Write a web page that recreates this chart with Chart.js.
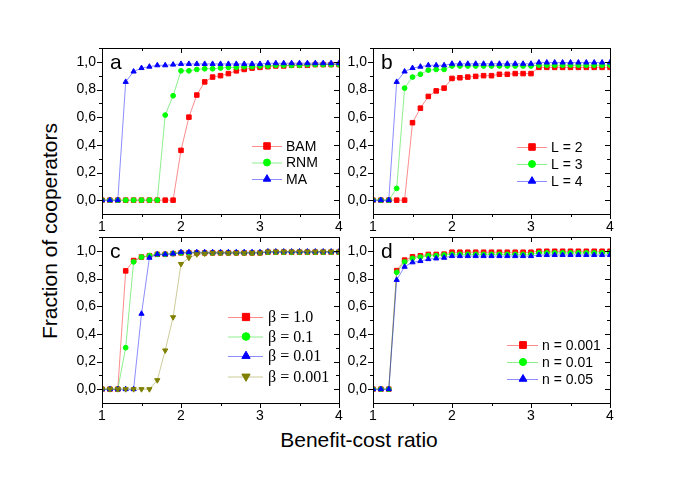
<!DOCTYPE html>
<html>
<head>
<meta charset="utf-8">
<script src="https://cdn.jsdelivr.net/npm/chart.js@4"></script>
<style>
  body { margin: 0; background: #fff; }
  #wrap { position: relative; width: 679px; height: 477px; overflow: hidden; }
  #wrap canvas { position: absolute; left: 0; top: 0; }
  .title { position: absolute; font-family: "Liberation Sans", Arial, sans-serif; font-size: 21px; color: #000; white-space: nowrap; }
</style>
</head>
<body>
<div id="wrap">
  <div class="title" style="left:359px; top:440px; transform: translate(-50%, -50%);">Benefit-cost ratio</div>
  <div class="title" style="left:50px; top:231px; transform: translate(-50%, -50%) rotate(-90deg);">Fraction of cooperators</div>
</div>
<script>
// x values shared by all panels
const ratios = [1.0, 1.1, 1.2, 1.3, 1.4, 1.5, 1.6, 1.7, 1.8, 1.9,
                2.0, 2.1, 2.2, 2.3, 2.4, 2.5, 2.6, 2.7, 2.8, 2.9,
                3.0, 3.1, 3.2, 3.3, 3.4, 3.5, 3.6, 3.7, 3.8, 3.9, 4.0];
const xTicks = [1, 2, 3, 4];
const yTicks = [0, 0.2, 0.4, 0.6, 0.8, 1.0];

// panel a
const namesA = ['BAM', 'RNM', 'MA'];
const bam = [0, 0, 0, 0, 0, 0, 0, 0, 0, 0,
             0.36, 0.60, 0.76, 0.855, 0.89, 0.90, 0.915, 0.935, 0.945, 0.955,
             0.96, 0.965, 0.97, 0.97, 0.975, 0.975, 0.975, 0.98, 0.98, 0.98, 0.98];
const rnm = [0, 0, 0, 0, 0, 0, 0, 0, 0.615, 0.755,
             0.935, 0.935, 0.945, 0.95, 0.95, 0.955, 0.96, 0.96, 0.965, 0.965,
             0.97, 0.97, 0.975, 0.975, 0.975, 0.975, 0.98, 0.98, 0.98, 0.98, 0.98];
const ma  = [0, 0, 0, 0.855, 0.93, 0.955, 0.965, 0.975, 0.975, 0.98,
             0.985, 0.985, 0.985, 0.985, 0.985, 0.985, 0.985, 0.985, 0.985, 0.985,
             0.985, 0.99, 0.99, 0.99, 0.99, 0.99, 0.99, 0.99, 0.99, 0.99, 0.99];

// panel b
const namesB = ['L = 2', 'L = 3', 'L = 4'];
const l2 = [0, 0, 0, 0, 0, 0.56, 0.665, 0.75, 0.79, 0.81,
            0.88, 0.885, 0.89, 0.895, 0.90, 0.90, 0.91, 0.91, 0.915, 0.915,
            0.915, 0.96, 0.96, 0.96, 0.96, 0.96, 0.96, 0.96, 0.96, 0.96, 0.96];
const l3 = [0, 0, 0, 0.085, 0.81, 0.89, 0.91, 0.94, 0.945, 0.945,
            0.97, 0.97, 0.97, 0.97, 0.97, 0.97, 0.97, 0.97, 0.97, 0.97,
            0.97, 0.976, 0.976, 0.976, 0.976, 0.976, 0.976, 0.976, 0.976, 0.976, 0.976];
const l4 = [0, 0, 0, 0.855, 0.93, 0.955, 0.965, 0.975, 0.975, 0.975,
            0.986, 0.986, 0.986, 0.986, 0.986, 0.986, 0.986, 0.986, 0.986, 0.986,
            0.986, 0.995, 0.995, 0.995, 0.995, 0.995, 0.995, 0.995, 0.995, 0.995, 0.995];

// panel c
const namesC = ['β = 1.0', 'β = 0.1', 'β = 0.01', 'β = 0.001'];
const b1    = [0, 0, 0, 0.855, 0.93, 0.955, 0.965, 0.975, 0.975, 0.98,
               0.985, 0.985, 0.985, 0.985, 0.985, 0.985, 0.985, 0.985, 0.985, 0.985,
               0.985, 0.99, 0.99, 0.99, 0.99, 0.99, 0.99, 0.99, 0.99, 0.99, 0.99];
const b01   = [0, 0, 0, 0.30, 0.92, 0.955, 0.965, 0.975, 0.975, 0.98,
               0.985, 0.985, 0.985, 0.985, 0.985, 0.985, 0.985, 0.985, 0.985, 0.985,
               0.985, 0.99, 0.99, 0.99, 0.99, 0.99, 0.99, 0.99, 0.99, 0.99, 0.99];
const b001  = [0, 0, 0, 0, 0, 0.545, 0.95, 0.975, 0.975, 0.98,
               0.99, 0.99, 0.99, 0.99, 0.99, 0.99, 0.99, 0.99, 0.99, 0.99,
               0.99, 0.995, 0.995, 0.995, 0.995, 0.995, 0.995, 0.995, 0.995, 0.995, 0.995];
const b0001 = [0, 0, 0, 0, 0, 0, 0, 0.065, 0.28, 0.52,
               0.905, 0.95, 0.975, 0.98, 0.985, 0.985, 0.985, 0.985, 0.985, 0.985,
               0.985, 0.995, 0.995, 0.995, 0.995, 0.995, 0.995, 0.995, 0.995, 0.995, 0.995];

// panel d
const namesD = ['n = 0.001', 'n = 0.01', 'n = 0.05'];
const n0001 = [0, 0, 0, 0.857, 0.933, 0.957, 0.964, 0.974, 0.974, 0.976,
               0.99, 0.99, 0.99, 0.99, 0.99, 0.99, 0.99, 0.99, 0.99, 0.99,
               0.99, 0.997, 0.997, 0.997, 0.997, 0.997, 0.997, 0.997, 0.997, 0.997, 0.997];
const n001  = [0, 0, 0, 0.845, 0.92, 0.945, 0.955, 0.965, 0.965, 0.97,
               0.975, 0.975, 0.975, 0.975, 0.975, 0.975, 0.975, 0.975, 0.975, 0.975,
               0.975, 0.985, 0.985, 0.985, 0.985, 0.985, 0.985, 0.985, 0.985, 0.985, 0.985];
const n005  = [0, 0, 0, 0.79, 0.885, 0.917, 0.926, 0.94, 0.945, 0.95,
               0.962, 0.962, 0.962, 0.962, 0.962, 0.962, 0.962, 0.962, 0.962, 0.962,
               0.962, 0.97, 0.97, 0.97, 0.97, 0.97, 0.97, 0.97, 0.97, 0.97, 0.97];

// styles
const styles = [
  { color: '#ff0000', line: 'rgba(255,0,0,0.45)', shape: 'rect', rot: 0, r: 3.2 },
  { color: '#00ff00', line: 'rgba(0,220,0,0.45)', shape: 'circle', rot: 0, r: 2.4 },
  { color: '#0000ff', line: 'rgba(0,0,255,0.45)', shape: 'triangle', rot: 0, r: 3 },
  { color: '#808000', line: 'rgba(128,128,0,0.4)', shape: 'triangle', rot: 180, r: 3 }
];

const SANS = '"Liberation Sans", Arial, sans-serif';
const SERIF = '"Liberation Serif", "Times New Roman", serif';

const panels = [
  { letter: 'a', names: namesA, series: [bam, rnm, ma],
    area: { left: 102, top: 48, right: 339, bottom: 214 },
    legend: { x0: 252, x1: 282, mx: 267, tx: 286, ys: [146, 162.5, 179], font: '14px ' + SANS, scale: 1.45 } },
  { letter: 'b', names: namesB, series: [l2, l3, l4],
    area: { left: 373, top: 48, right: 610, bottom: 214 },
    legend: { x0: 517, x1: 547, mx: 532, tx: 551, ys: [147, 164, 181], font: '14px ' + SANS, scale: 1.45 } },
  { letter: 'c', names: namesC, series: [b1, b01, b001, b0001],
    area: { left: 102, top: 237, right: 339, bottom: 403 },
    legend: { x0: 228, x1: 263, mx: 246, tx: 268, ys: [317, 336.5, 356, 376.5], font: '16px ' + SERIF, scale: 1.6 } },
  { letter: 'd', names: namesD, series: [n0001, n001, n005],
    area: { left: 373, top: 237, right: 610, bottom: 403 },
    legend: { x0: 507, x1: 538, mx: 523, tx: 542, ys: [345, 362, 379], font: '14px ' + SANS, scale: 1.5 } }
];

// frame, mirrored ticks, panel letter and legend
function decorPlugin(p) {
  return {
    id: 'decor' + p.letter,
    afterDraw(chart) {
      const ctx = chart.ctx;
      const a = chart.chartArea;
      const xs = chart.scales.x, ys = chart.scales.y;
      ctx.save();
      ctx.strokeStyle = '#000';
      ctx.lineWidth = 1;
      ctx.strokeRect(Math.round(a.left) + 0.5, Math.round(a.top) + 0.5,
                     Math.round(a.right - a.left), Math.round(a.bottom - a.top));
      ctx.beginPath();
      [1, 1.5, 2, 2.5, 3, 3.5, 4].forEach(v => {
        const len = Number.isInteger(v) ? 5 : 3;
        const x = Math.round(xs.getPixelForValue(v)) + 0.5;
        ctx.moveTo(x, a.bottom); ctx.lineTo(x, a.bottom + len);
        ctx.moveTo(x, a.top); ctx.lineTo(x, a.top + len);
      });
      [0, 0.1, 0.2, 0.3, 0.4, 0.5, 0.6, 0.7, 0.8, 0.9, 1.0, 1.1].forEach((v, i) => {
        const len = i % 2 === 0 ? 5 : 3;
        const y = Math.round(ys.getPixelForValue(v)) + 0.5;
        ctx.moveTo(a.left - len, y); ctx.lineTo(a.left, y);
        ctx.moveTo(a.right - len, y); ctx.lineTo(a.right, y);
      });
      ctx.stroke();

      ctx.fillStyle = '#000';
      ctx.font = '21px ' + SANS;
      ctx.textBaseline = 'alphabetic';
      ctx.textAlign = 'left';
      ctx.fillText(p.letter, a.left + 8, a.top + 21);

      const lg = p.legend;
      chart.data.datasets.forEach((ds, i) => {
        const st = styles[i];
        const y = lg.ys[i];
        ctx.strokeStyle = st.line;
        ctx.lineWidth = 1;
        ctx.beginPath();
        ctx.moveTo(lg.x0, y + 0.5); ctx.lineTo(lg.x1, y + 0.5);
        ctx.stroke();
        ctx.fillStyle = st.color;
        ctx.strokeStyle = st.color;
        Chart.helpers.drawPoint(ctx, { pointStyle: st.shape, rotation: st.rot, radius: st.r * lg.scale, borderWidth: 1 }, lg.mx, y);
        ctx.fillStyle = '#000';
        ctx.font = lg.font;
        ctx.textBaseline = 'middle';
        ctx.fillText(ds.label, lg.tx, y + 1);
      });
      ctx.restore();
    }
  };
}

const wrap = document.getElementById('wrap');
panels.forEach(p => {
  const canvas = document.createElement('canvas');
  canvas.width = 679;
  canvas.height = 477;
  wrap.appendChild(canvas);
  const n = p.series.length;
  new Chart(canvas, {
    type: 'line',
    data: {
      datasets: p.series.map((vals, i) => ({
        label: p.names[i],
        data: ratios.map((x, j) => ({ x: x, y: vals[j] })),
        borderColor: styles[i].line,
        borderWidth: 1,
        backgroundColor: styles[i].color,
        pointBackgroundColor: styles[i].color,
        pointBorderColor: styles[i].color,
        pointBorderWidth: 1,
        pointStyle: styles[i].shape,
        pointRotation: styles[i].rot,
        pointRadius: styles[i].r,
        tension: 0,
        order: n - i
      }))
    },
    options: {
      responsive: false,
      animation: false,
      devicePixelRatio: 1,
      events: [],
      layout: {
        padding: {
          left: p.area.left - 40,
          top: p.area.top,
          right: 679 - p.area.right,
          bottom: 477 - p.area.bottom - 20
        }
      },
      plugins: { legend: { display: false }, tooltip: { enabled: false } },
      scales: {
        x: {
          type: 'linear',
          min: 1,
          max: 4,
          afterFit: s => { s.height = 20; },
          afterBuildTicks: s => { s.ticks = xTicks.map(v => ({ value: v })); },
          grid: { display: false, drawTicks: false },
          border: { display: false },
          ticks: {
            color: '#000',
            font: { family: SANS, size: 14 },
            padding: 5,
            maxRotation: 0,
            callback: v => String(v)
          }
        },
        y: {
          type: 'linear',
          min: -0.1,
          max: 1.1,
          afterFit: s => { s.width = 40; },
          afterBuildTicks: s => { s.ticks = yTicks.map(v => ({ value: v })); },
          grid: { display: false, drawTicks: false },
          border: { display: false },
          ticks: {
            color: '#000',
            font: { family: SANS, size: 14 },
            padding: 6,
            callback: v => v.toFixed(1).replace('.', ',')
          }
        }
      }
    },
    plugins: [decorPlugin(p)]
  });
});
</script>
</body>
</html>
